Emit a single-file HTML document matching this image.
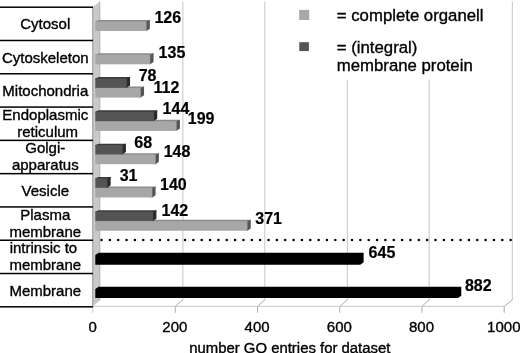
<!DOCTYPE html>
<html><head><meta charset="utf-8"><style>
html,body{margin:0;padding:0;background:#fff;}
svg{display:block;}
text{font-family:"Liberation Sans",Arial,sans-serif;fill:#000;stroke:#000;stroke-width:0.35px;}
.dl{stroke-width:0.2px;}
.rl{font-size:15px;text-anchor:middle;}
.dl{font-size:16px;font-weight:bold;}
.ax{font-size:15px;text-anchor:middle;}
.lg{font-size:16.75px;}
</style></head><body>
<svg width="520" height="353" viewBox="0 0 520 353">
<rect width="520" height="353" fill="#fff"/>
<polyline points="182.90,1.5 182.90,300.3" fill="none" stroke="#c6c6c6" stroke-width="1"/>
<polyline points="182.90,299.8 175.24,306.3 175.24,312.8" fill="none" stroke="#acacac" stroke-width="1"/>
<polyline points="264.80,1.5 264.80,300.3" fill="none" stroke="#c6c6c6" stroke-width="1"/>
<polyline points="264.80,299.8 257.48,306.3 257.48,312.8" fill="none" stroke="#acacac" stroke-width="1"/>
<polyline points="347.30,1.5 347.30,300.3" fill="none" stroke="#c6c6c6" stroke-width="1"/>
<polyline points="347.30,299.8 339.72,306.3 339.72,312.8" fill="none" stroke="#acacac" stroke-width="1"/>
<polyline points="429.20,1.5 429.20,300.3" fill="none" stroke="#c6c6c6" stroke-width="1"/>
<polyline points="429.20,299.8 421.96,306.3 421.96,312.8" fill="none" stroke="#acacac" stroke-width="1"/>
<polyline points="512.30,1.5 512.30,300.3" fill="none" stroke="#c6c6c6" stroke-width="1"/>
<polyline points="512.30,299.8 504.20,306.3 504.20,312.8" fill="none" stroke="#acacac" stroke-width="1"/>
<rect x="275" y="0" width="225" height="79.7" fill="#fff"/>
<line x1="92.5" y1="306.3" x2="504.20" y2="306.3" stroke="#c6c6c6" stroke-width="1"/>
<line x1="92.8" y1="306.3" x2="92.8" y2="312.8" stroke="#d0d0d0" stroke-width="1"/>
<polygon points="92.3,7.5 100.2,1.2 100.2,300.3 92.3,306.6" fill="#c9c9c9"/>
<line x1="92.8" y1="7.5" x2="92.8" y2="306.6" stroke="#9a9a9a" stroke-width="1"/>
<line x1="99.7" y1="1.5" x2="99.7" y2="300" stroke="#b5b5b5" stroke-width="1"/>
<polygon points="95.3,22.40 146.51,22.40 149.81,21.00 149.81,20.00 98.6,20.00 95.3,21.40" fill="#8a8a8a"/><polygon points="145.51,21.40 146.51,21.40 149.81,20.00 149.81,28.70 146.51,31.00 145.51,31.00" fill="#555555"/><rect x="95.3" y="21.40" width="51.21" height="9.60" fill="#a7a7a7"/>
<polygon points="95.3,55.69 150.22,55.69 153.52,54.29 153.52,53.29 98.6,53.29 95.3,54.69" fill="#8a8a8a"/><polygon points="149.22,54.69 150.22,54.69 153.52,53.29 153.52,61.99 150.22,64.29 149.22,64.29" fill="#555555"/><rect x="95.3" y="54.69" width="54.92" height="9.60" fill="#a7a7a7"/>
<polygon points="95.3,88.98 140.74,88.98 144.04,87.58 144.04,86.58 98.6,86.58 95.3,87.98" fill="#8a8a8a"/><polygon points="139.74,87.98 140.74,87.98 144.04,86.58 144.04,95.28 140.74,97.58 139.74,97.58" fill="#555555"/><rect x="95.3" y="87.98" width="45.44" height="9.60" fill="#a7a7a7"/>
<polygon points="95.3,79.48 126.74,79.48 130.04,78.08 130.04,77.08 98.6,77.08 95.3,78.48" fill="#3a3a3a"/><polygon points="125.74,78.48 126.74,78.48 130.04,77.08 130.04,85.48 126.74,87.78 125.74,87.78" fill="#2a2a2a"/><rect x="95.3" y="78.48" width="31.44" height="9.30" fill="#545454"/>
<polygon points="95.3,122.27 176.59,122.27 179.89,120.87 179.89,119.87 98.6,119.87 95.3,121.27" fill="#8a8a8a"/><polygon points="175.59,121.27 176.59,121.27 179.89,119.87 179.89,128.57 176.59,130.87 175.59,130.87" fill="#555555"/><rect x="95.3" y="121.27" width="81.29" height="9.60" fill="#a7a7a7"/>
<polygon points="95.3,112.77 153.93,112.77 157.23,111.37 157.23,110.37 98.6,110.37 95.3,111.77" fill="#3a3a3a"/><polygon points="152.93,111.77 153.93,111.77 157.23,110.37 157.23,118.77 153.93,121.07 152.93,121.07" fill="#2a2a2a"/><rect x="95.3" y="111.77" width="58.63" height="9.30" fill="#545454"/>
<polygon points="95.3,155.56 155.58,155.56 158.88,154.16 158.88,153.16 98.6,153.16 95.3,154.56" fill="#8a8a8a"/><polygon points="154.58,154.56 155.58,154.56 158.88,153.16 158.88,161.86 155.58,164.16 154.58,164.16" fill="#555555"/><rect x="95.3" y="154.56" width="60.28" height="9.60" fill="#a7a7a7"/>
<polygon points="95.3,146.06 122.62,146.06 125.92,144.66 125.92,143.66 98.6,143.66 95.3,145.06" fill="#3a3a3a"/><polygon points="121.62,145.06 122.62,145.06 125.92,143.66 125.92,152.06 122.62,154.36 121.62,154.36" fill="#2a2a2a"/><rect x="95.3" y="145.06" width="27.32" height="9.30" fill="#545454"/>
<polygon points="95.3,188.85 152.28,188.85 155.58,187.45 155.58,186.45 98.6,186.45 95.3,187.85" fill="#8a8a8a"/><polygon points="151.28,187.85 152.28,187.85 155.58,186.45 155.58,195.15 152.28,197.45 151.28,197.45" fill="#555555"/><rect x="95.3" y="187.85" width="56.98" height="9.60" fill="#a7a7a7"/>
<polygon points="95.3,179.35 107.37,179.35 110.67,177.95 110.67,176.95 98.6,176.95 95.3,178.35" fill="#3a3a3a"/><polygon points="106.37,178.35 107.37,178.35 110.67,176.95 110.67,185.35 107.37,187.65 106.37,187.65" fill="#2a2a2a"/><rect x="95.3" y="178.35" width="12.07" height="9.30" fill="#545454"/>
<polygon points="95.3,222.14 247.45,222.14 250.75,220.74 250.75,219.74 98.6,219.74 95.3,221.14" fill="#8a8a8a"/><polygon points="246.45,221.14 247.45,221.14 250.75,219.74 250.75,228.44 247.45,230.74 246.45,230.74" fill="#555555"/><rect x="95.3" y="221.14" width="152.15" height="9.60" fill="#a7a7a7"/>
<polygon points="95.3,212.64 153.10,212.64 156.40,211.24 156.40,210.24 98.6,210.24 95.3,211.64" fill="#3a3a3a"/><polygon points="152.10,211.64 153.10,211.64 156.40,210.24 156.40,218.64 153.10,220.94 152.10,220.94" fill="#2a2a2a"/><rect x="95.3" y="211.64" width="57.80" height="9.30" fill="#545454"/>
<polygon points="95.3,254.93 98.60,252.63 363.64,252.63 363.64,262.33 360.34,264.63 95.3,264.63" fill="#000"/>
<polygon points="95.3,289.12 98.60,286.82 461.28,286.82 461.28,295.72 457.98,298.02 95.3,298.02" fill="#000"/>
<rect x="100.40" y="238.9" width="2.2" height="2.2" fill="#000"/>
<rect x="108.75" y="238.9" width="2.2" height="2.2" fill="#000"/>
<rect x="117.10" y="238.9" width="2.2" height="2.2" fill="#000"/>
<rect x="125.45" y="238.9" width="2.2" height="2.2" fill="#000"/>
<rect x="133.80" y="238.9" width="2.2" height="2.2" fill="#000"/>
<rect x="142.15" y="238.9" width="2.2" height="2.2" fill="#000"/>
<rect x="150.50" y="238.9" width="2.2" height="2.2" fill="#000"/>
<rect x="158.85" y="238.9" width="2.2" height="2.2" fill="#000"/>
<rect x="167.20" y="238.9" width="2.2" height="2.2" fill="#000"/>
<rect x="175.55" y="238.9" width="2.2" height="2.2" fill="#000"/>
<rect x="183.90" y="238.9" width="2.2" height="2.2" fill="#000"/>
<rect x="192.25" y="238.9" width="2.2" height="2.2" fill="#000"/>
<rect x="200.60" y="238.9" width="2.2" height="2.2" fill="#000"/>
<rect x="208.95" y="238.9" width="2.2" height="2.2" fill="#000"/>
<rect x="217.30" y="238.9" width="2.2" height="2.2" fill="#000"/>
<rect x="225.65" y="238.9" width="2.2" height="2.2" fill="#000"/>
<rect x="234.00" y="238.9" width="2.2" height="2.2" fill="#000"/>
<rect x="242.35" y="238.9" width="2.2" height="2.2" fill="#000"/>
<rect x="250.70" y="238.9" width="2.2" height="2.2" fill="#000"/>
<rect x="259.05" y="238.9" width="2.2" height="2.2" fill="#000"/>
<rect x="267.40" y="238.9" width="2.2" height="2.2" fill="#000"/>
<rect x="275.75" y="238.9" width="2.2" height="2.2" fill="#000"/>
<rect x="284.10" y="238.9" width="2.2" height="2.2" fill="#000"/>
<rect x="292.45" y="238.9" width="2.2" height="2.2" fill="#000"/>
<rect x="300.80" y="238.9" width="2.2" height="2.2" fill="#000"/>
<rect x="309.15" y="238.9" width="2.2" height="2.2" fill="#000"/>
<rect x="317.50" y="238.9" width="2.2" height="2.2" fill="#000"/>
<rect x="325.85" y="238.9" width="2.2" height="2.2" fill="#000"/>
<rect x="334.20" y="238.9" width="2.2" height="2.2" fill="#000"/>
<rect x="342.55" y="238.9" width="2.2" height="2.2" fill="#000"/>
<rect x="350.90" y="238.9" width="2.2" height="2.2" fill="#000"/>
<rect x="359.25" y="238.9" width="2.2" height="2.2" fill="#000"/>
<rect x="367.60" y="238.9" width="2.2" height="2.2" fill="#000"/>
<rect x="375.95" y="238.9" width="2.2" height="2.2" fill="#000"/>
<rect x="384.30" y="238.9" width="2.2" height="2.2" fill="#000"/>
<rect x="392.65" y="238.9" width="2.2" height="2.2" fill="#000"/>
<rect x="401.00" y="238.9" width="2.2" height="2.2" fill="#000"/>
<rect x="409.35" y="238.9" width="2.2" height="2.2" fill="#000"/>
<rect x="417.70" y="238.9" width="2.2" height="2.2" fill="#000"/>
<rect x="426.05" y="238.9" width="2.2" height="2.2" fill="#000"/>
<rect x="434.40" y="238.9" width="2.2" height="2.2" fill="#000"/>
<rect x="442.75" y="238.9" width="2.2" height="2.2" fill="#000"/>
<rect x="451.10" y="238.9" width="2.2" height="2.2" fill="#000"/>
<rect x="459.45" y="238.9" width="2.2" height="2.2" fill="#000"/>
<rect x="467.80" y="238.9" width="2.2" height="2.2" fill="#000"/>
<rect x="476.15" y="238.9" width="2.2" height="2.2" fill="#000"/>
<rect x="484.50" y="238.9" width="2.2" height="2.2" fill="#000"/>
<rect x="492.85" y="238.9" width="2.2" height="2.2" fill="#000"/>
<rect x="501.20" y="238.9" width="2.2" height="2.2" fill="#000"/>
<rect x="509.55" y="238.9" width="2.2" height="2.2" fill="#000"/>
<rect x="0" y="6.45" width="93" height="1.5" fill="#000"/>
<rect x="0" y="39.74" width="93" height="1.5" fill="#000"/>
<rect x="0" y="73.03" width="93" height="1.5" fill="#000"/>
<rect x="0" y="106.32" width="93" height="1.5" fill="#000"/>
<rect x="0" y="139.61" width="93" height="1.5" fill="#000"/>
<rect x="0" y="172.90" width="93" height="1.5" fill="#000"/>
<rect x="0" y="206.19" width="93" height="1.5" fill="#000"/>
<rect x="0" y="239.48" width="93" height="1.5" fill="#000"/>
<rect x="0" y="272.77" width="93" height="1.5" fill="#000"/>
<rect x="0" y="306.06" width="93" height="1.5" fill="#000"/>
<rect x="299.2" y="9.9" width="10" height="10.1" fill="#a8a8a8"/><rect x="299.3" y="42.2" width="9.6" height="8.9" fill="#555"/><text x="336.8" y="21.1" class="lg">= complete organell</text><text x="336.8" y="52.5" class="lg">= (integral)</text><text x="336.8" y="70.5" class="lg">membrane protein</text>
<text x="45.3" y="29.45" class="rl">Cytosol</text>
<text x="45.3" y="62.74" class="rl">Cytoskeleton</text>
<text x="45.3" y="96.02" class="rl">Mitochondria</text>
<text x="45.3" y="120.12" class="rl">Endoplasmic</text>
<text x="47.7" y="137.02" class="rl">reticulum</text>
<text x="45.3" y="153.41" class="rl">Golgi-</text>
<text x="45.3" y="170.31" class="rl">apparatus</text>
<text x="45.3" y="195.89" class="rl">Vesicle</text>
<text x="45.3" y="219.99" class="rl">Plasma</text>
<text x="45.3" y="236.89" class="rl">membrane</text>
<text x="43.4" y="253.28" class="rl">intrinsic to</text>
<text x="45.3" y="270.18" class="rl">membrane</text>
<text x="45.3" y="295.76" class="rl">Membrane</text>
<text x="154.4" y="23.2" class="dl">126</text>
<text x="158.6" y="57.9" class="dl">135</text>
<text x="138.7" y="81.1" class="dl">78</text>
<text x="153.5" y="92.8" class="dl">112</text>
<text x="162.6" y="113.8" class="dl">144</text>
<text x="187.8" y="124.4" class="dl">199</text>
<text x="134.3" y="147.5" class="dl">68</text>
<text x="163.7" y="156.9" class="dl">148</text>
<text x="119.7" y="180.9" class="dl">31</text>
<text x="160.0" y="190.2" class="dl">140</text>
<text x="161.5" y="215.9" class="dl">142</text>
<text x="255.3" y="223.6" class="dl">371</text>
<text x="368.6" y="257.6" class="dl">645</text>
<text x="464.9" y="291.1" class="dl">882</text>
<text x="92.60" y="332.3" class="ax">0</text>
<text x="174.84" y="332.3" class="ax">200</text>
<text x="257.08" y="332.3" class="ax">400</text>
<text x="339.32" y="332.3" class="ax">600</text>
<text x="421.56" y="332.3" class="ax">800</text>
<text x="503.80" y="332.3" class="ax">1000</text>
<text x="289.8" y="352.5" class="ax" style="font-size:14.9px">number GO entries for dataset</text>
</svg>
</body></html>
